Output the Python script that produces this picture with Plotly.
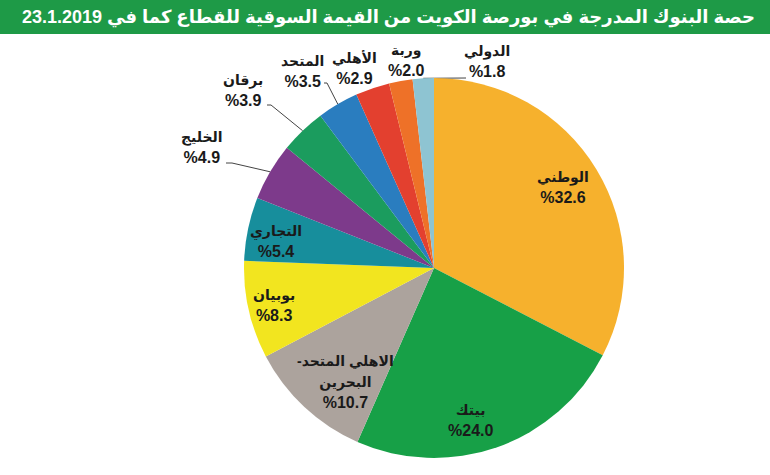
import math
import plotly.graph_objects as go

# ---- data ----
banks = ["الوطني", "بيتك", "الاهلي المتحد-البحرين", "بوبيان", "التجاري", "الخليج",
         "برقان", "المتحد", "الأهلي", "وربة", "الدولي"]
label_lines = [["الوطني"], ["بيتك"], ["-الاهلي المتحد", "البحرين"], ["بوبيان"], ["التجاري"],
               ["الخليج"], ["برقان"], ["المتحد"], ["الأهلي"], ["وربة"], ["الدولي"]]
shares = [32.6, 24.0, 10.7, 8.3, 5.4, 4.9, 3.9, 3.5, 2.9, 2.0, 1.8]
title_text = "حصة البنوك المدرجة في بورصة الكويت من القيمة السوقية للقطاع كما في 23.1.2019"

# ---- styles / layout ----
colors = ["#F6B12D", "#17A047", "#ACA39D", "#F2E51F", "#178E9C", "#7D3A8B",
          "#1B9C5E", "#2A7DBF", "#E3402F", "#EE7128", "#8EC4D2"]
W, H = 770, 475
cx, cy, R = 434, 268, 190
label_pos = [(563, 187), (470, 420), (345, 382), (274, 305), (276, 241), (202, 147),
             (243, 90), (302, 71), (354, 68), (406, 60), (487, 61)]
# leader line starting points (pixel) for labels that have one
leader_start = {5: [(226, 163), (232, 163)], 6: [(267, 105), (271, 105)],
                7: [(324, 83), (327, 83)], 10: [(466, 78)]}

fig = go.Figure()
fig.add_trace(go.Pie(
    values=shares, labels=banks, sort=False, direction="clockwise", rotation=0,
    marker=dict(colors=colors, line=dict(width=0)), textinfo="none",
    domain=dict(x=[(cx - R) / W, (cx + R) / W], y=[(H - cy - R) / H, (H - cy + R) / H]),
    showlegend=False, hoverinfo="label+percent",
))

total = sum(shares)
cum = 0.0
mids = []
for v in shares:
    mids.append((cum + v / 2) / total * 2 * math.pi)
    cum += v

for i, pts in leader_start.items():
    a = mids[i]
    ex, ey = cx + R * math.sin(a), cy - R * math.cos(a)
    xs = [p[0] for p in pts] + [ex]
    ys = [p[1] for p in pts] + [ey]
    fig.add_trace(go.Scatter(x=xs, y=ys, mode="lines", line=dict(color="#444444", width=1),
                             showlegend=False, hoverinfo="skip"))

annotations = []
for i, lines in enumerate(label_lines):
    parts = ["<b><span style='font-size:14px'>" + s + "</span></b>" for s in lines]
    parts.append("<b>%" + f"{shares[i]:.1f}" + "</b>")
    txt = "<br>".join(parts)
    x, y = label_pos[i]
    annotations.append(dict(x=x, y=y, xref="x", yref="y", text=txt, showarrow=False,
                            font=dict(family="Arial, DejaVu Sans, sans-serif", size=16, color="#1a1a1a"),
                            align="center", xanchor="center", yanchor="middle"))

annotations.append(dict(x=W / 2 + 3, y=17, xref="x", yref="y",
                        text="<b>" + title_text + "</b>", showarrow=False,
                        font=dict(family="Arial, DejaVu Sans, sans-serif", size=18, color="white"),
                        xanchor="center", yanchor="middle"))

fig.update_layout(
    width=W, height=H, margin=dict(l=0, r=0, t=0, b=0),
    paper_bgcolor="white", plot_bgcolor="rgba(0,0,0,0)",
    xaxis=dict(range=[0, W], visible=False, domain=[0, 1], fixedrange=True),
    yaxis=dict(range=[H, 0], visible=False, domain=[0, 1], fixedrange=True),
    shapes=[dict(type="rect", xref="paper", yref="paper", x0=0, x1=1, y0=1 - 34 / H, y1=1,
                 fillcolor="#1E9A47", line=dict(width=0), layer="below")],
    annotations=annotations,
)

fig.write_html("out.html")
